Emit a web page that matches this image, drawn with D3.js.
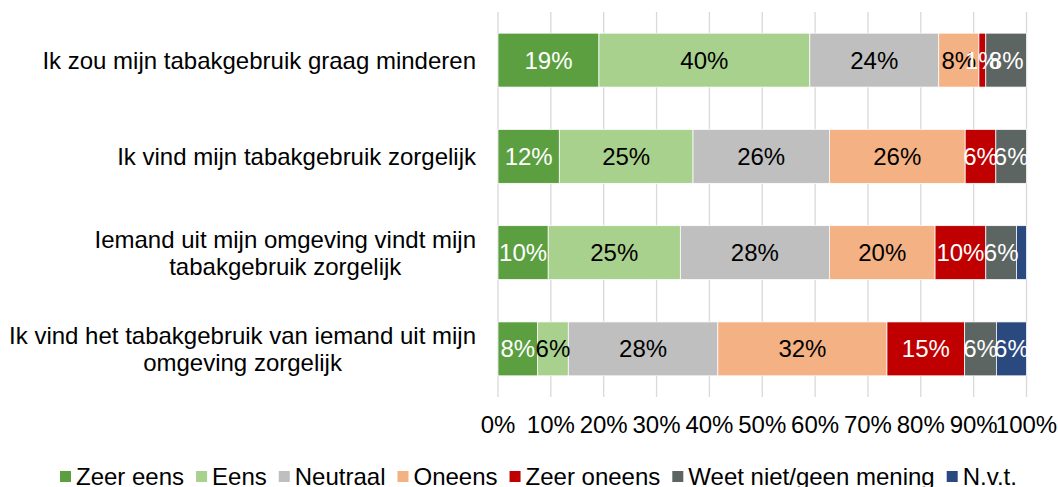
<!DOCTYPE html>
<html lang="nl">
<meta charset="UTF-8">
<style>
    body { margin: 0; background: #fff; }
    svg text { font-family: "Liberation Sans", Arial, sans-serif; font-size: 24px; }
    .grid line { stroke: #d9d9d9; stroke-width: 1.3px; }
</style>
<body>
<svg id="chart" width="1058" height="487"></svg>
<script src="https://cdnjs.cloudflare.com/ajax/libs/d3/7.8.5/d3.min.js"></script>
<script>
// categories (top to bottom), each split into display lines
const categories = [
    ["Ik zou mijn tabakgebruik graag minderen"],
    ["Ik vind mijn tabakgebruik zorgelijk"],
    ["Iemand uit mijn omgeving vindt mijn", "tabakgebruik zorgelijk"],
    ["Ik vind het tabakgebruik van iemand uit mijn", "omgeving zorgelijk"]
];
const seriesNames = ["Zeer eens", "Eens", "Neutraal", "Oneens", "Zeer oneens", "Weet niet/geen mening", "N.v.t."];
const seriesColors = ["#5b9f40", "#a9d18e", "#bfbfbf", "#f4b183", "#c00000", "#5d6563", "#2a4a7f"];
const labelColors = ["#fff", "#000", "#000", "#000", "#fff", "#fff", "#fff"];

// percentages per series, one value per category
const zeerEens   = [19.1, 11.6,  9.5,  7.5];
const eens       = [39.9, 25.3, 25.0,  5.8];
const neutraal   = [24.4, 25.8, 28.2, 28.3];
const oneens     = [ 7.6, 25.7, 20.0, 32.0];
const zeerOneens = [ 1.3,  5.8,  9.6, 14.7];
const weetNiet   = [ 7.7,  5.8,  5.8,  6.0];
const nvt        = [ 0.0,  0.0,  1.9,  5.7];

const xTicks = [0, 10, 20, 30, 40, 50, 60, 70, 80, 90, 100];
// labels that are not shown in the original: [category index, series index]
const hiddenLabels = [[2, 6]];

const seriesValues = [zeerEens, eens, neutraal, oneens, zeerOneens, weetNiet, nvt];
const rows = categories.map((c, i) => {
    const r = {idx: i};
    seriesNames.forEach((s, j) => r[s] = seriesValues[j][i]);
    return r;
});

const svg = d3.select("#chart");
const plotLeft = 498, plotRight = 1026.5, plotTop = 12, plotBottom = 397;

const x = d3.scaleLinear().domain([0, 100]).range([plotLeft, plotRight]);
const y = d3.scaleBand().domain(d3.range(categories.length)).range([plotTop, plotBottom]).paddingInner(0.44).paddingOuter(0.22);

// gridlines
svg.append("g").attr("class", "grid")
    .selectAll("line").data(xTicks).enter().append("line")
    .attr("x1", d => x(d)).attr("x2", d => x(d))
    .attr("y1", plotTop).attr("y2", plotBottom);

const stacked = d3.stack().keys(seriesNames)(rows);

const layers = svg.append("g").selectAll("g").data(stacked).enter().append("g")
    .attr("fill", (d, i) => seriesColors[i]);

layers.selectAll("rect").data(d => d).enter().append("rect")
    .attr("x", d => x(d[0]))
    .attr("width", d => x(d[1]) - x(d[0]))
    .attr("y", d => y(d.data.idx))
    .attr("height", y.bandwidth())
    .attr("stroke", "#fff")
    .attr("stroke-width", 0.75);

// data labels
stacked.forEach((layer, si) => {
    svg.append("g").selectAll("text")
        .data(layer.filter(d => (d[1] - d[0]) > 0 &&
            !hiddenLabels.some(h => h[0] === d.data.idx && h[1] === si)))
        .enter().append("text")
        .attr("x", d => (x(d[0]) + x(d[1])) / 2)
        .attr("y", d => y(d.data.idx) + y.bandwidth() / 2)
        .attr("dy", "0.35em")
        .attr("text-anchor", "middle")
        .attr("fill", labelColors[si])
        .text(d => Math.round(d[1] - d[0]) + "%");
});

// category labels: multi-line blocks centered, right edge at 476
const catG = svg.append("g");
categories.forEach((lines, i) => {
    const cy = y(i) + y.bandwidth() / 2;
    const t = catG.append("text").attr("text-anchor", "middle").attr("fill", "#000");
    lines.forEach((ln, k) => {
        t.append("tspan").attr("y", cy + (k - (lines.length - 1) / 2) * 27).attr("dy", "0.35em").text(ln);
    });
    let maxW = 0;
    t.selectAll("tspan").each(function() { maxW = Math.max(maxW, this.getComputedTextLength()); });
    t.selectAll("tspan").attr("x", 476 - maxW / 2);
});

// x axis labels
svg.append("g").selectAll("text").data(xTicks).enter().append("text")
    .attr("x", d => x(d))
    .attr("y", 425)
    .attr("dy", "0.35em")
    .attr("text-anchor", "middle")
    .attr("fill", "#000")
    .text(d => d + "%");

// legend
const legend = svg.append("g");
let lx = 60;
seriesNames.forEach((s, i) => {
    legend.append("rect").attr("x", lx).attr("y", 471).attr("width", 11).attr("height", 11).attr("fill", seriesColors[i]);
    const t = legend.append("text").attr("x", lx + 16).attr("y", 477).attr("dy", "0.35em").attr("fill", "#000").text(s);
    lx += 16 + t.node().getComputedTextLength() + 12;
});
</script>
</body>
</html>
